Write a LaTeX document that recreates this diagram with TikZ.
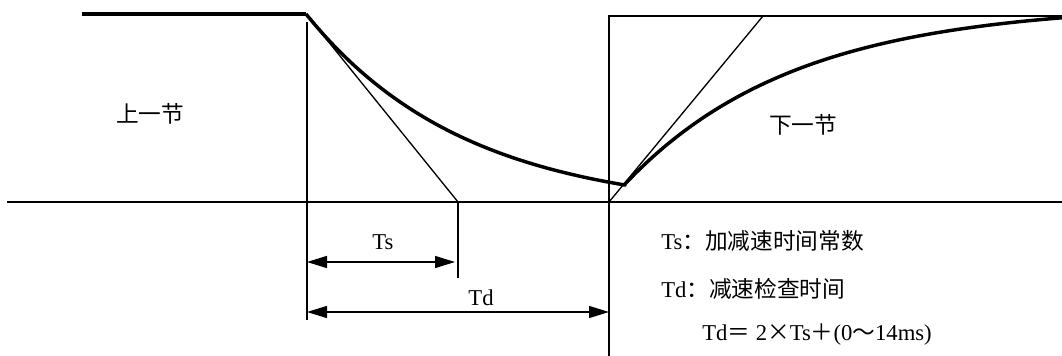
\documentclass[tikz,border=0pt]{standalone}
\usepackage{fontspec}
\setmainfont{Liberation Serif}
\newfontfamily\cjk{Noto Sans CJK SC}
\usetikzlibrary{arrows.meta}
\tikzset{
  thin line/.style={line width=1pt},
  thick line/.style={line width=3.2pt},
  curve line/.style={line width=2.6pt, line join=round},
  dim arrow/.style={line width=1.1pt,
    {Triangle[length=15pt,width=9pt]}-{Triangle[length=15pt,width=9pt]}},
  txt/.style={font=\fontsize{17}{20}\selectfont, inner sep=0pt},
}
\begin{document}
\begin{tikzpicture}[x=0.75pt, y=-0.75pt]
  \useasboundingbox (0,0) rectangle (1062,356);
  % key points
  \coordinate (LeftStart) at (82,14);
  \coordinate (Top) at (306,14);
  \coordinate (AxisL) at (7,202);
  \coordinate (AxisR) at (1062,202);
  \coordinate (TsFoot) at (458,202);
  \coordinate (TsTick) at (458,278);
  \coordinate (LeftTop) at (307,22);
  \coordinate (LeftBot) at (307,320);
  \coordinate (RectBot) at (609,356);
  \coordinate (RectTop) at (609,16);
  \coordinate (RectEnd) at (1062,16);
  \coordinate (RiseFoot) at (609,202);
  \coordinate (RiseTop) at (763,16);
  \coordinate (TsL) at (307,262);
  \coordinate (TsR) at (455,262);
  \coordinate (TdL) at (307,312);
  \coordinate (TdR) at (609,312);

  % frame lines
  \draw[thin line] (AxisL) -- (AxisR);
  \draw[thin line] (LeftTop) -- (LeftBot);
  \draw[thin line] (RectBot) -- (RectTop) -- (RectEnd);
  \draw[thin line] (TsFoot) -- (TsTick);

  % tangents
  \draw[thin line] (Top) -- (TsFoot);
  \draw[thin line] (RiseFoot) -- (RiseTop);

  % speed curve
  \draw[thick line] (LeftStart) -- (Top);
  \draw[curve line]
    plot[domain=0:319, samples=80] ({306+\x},{14+198*(1-exp(-\x/160))})
    -- plot[domain=0:437, samples=80] ({625+\x},{184-180*(1-exp(-\x/170))});

  % dimensions
  \draw[dim arrow] (TsL) -- (TsR);
  \draw[dim arrow] (TdL) -- (TdR);
  \node[txt] (tslbl) at (383,242) {Ts};
  \node[txt] (tdlbl) at (481,298) {Td};

  % texts
  \node[txt] (prev) at (150,114) {\cjk 上一节};
  \node[txt] (next) at (803,125) {\cjk 下一节};
  \node[txt, anchor=west] (tsnote) at (661,241) {Ts{\cjk ：加减速时间常数}};
  \node[txt, anchor=west] (tdnote) at (661,289) {Td{\cjk ：减速检查时间}};
  \node[txt, anchor=west] (formula) at (702,335)
    {Td{\cjk ＝} 2{\cjk ×}Ts{\cjk ＋}(0{\cjk ～}14ms)};
\end{tikzpicture}
\end{document}
